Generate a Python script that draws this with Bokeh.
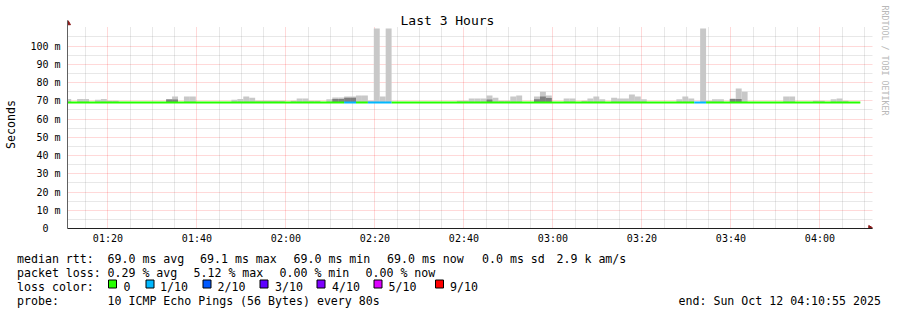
import math
from bokeh.plotting import figure
from bokeh.models import FixedTicker, Title
from bokeh.layouts import column
from bokeh.core.properties import value
from bokeh.embed import file_html
from bokeh.resources import INLINE

FONT = "DejaVu Sans Mono"

# ---------------- data ----------------
window_start = "01:10:55"
window_end = "04:10:55"
first_step = "01:10:25"
step_seconds = 80
n_steps = 134

# median rtt runs (step index ranges) and their loss count (out of 10)
run_first = [0, 47, 49, 51, 55, 106, 108]
run_last = [46, 48, 50, 54, 105, 107, 133]
run_median = [69.0, 69.0, 69.0, 69.0, 69.0, 69.0, 69.0]
run_loss = [0, 1, 0, 1, 0, 1, 0]

# smoke (highest ping) per step, ms
smoke_step = [0, 2, 3, 5, 6, 7, 8, 17, 18, 20, 21, 28, 29, 30, 31, 32, 33, 34, 35, 36,
              38, 39, 40, 41, 42, 44, 45, 46, 47, 48, 49, 50, 51, 52, 53, 54,
              66, 67, 68, 69, 70, 71, 72, 73, 74, 75, 76, 79, 80, 81, 84, 85,
              87, 88, 89, 90, 92, 93, 94, 95, 96, 97, 103, 104, 105, 107, 108,
              109, 110, 112, 113, 114, 121, 122, 126, 127, 129, 130, 131]
smoke_top = [71.0, 71.0, 71.0, 70.5, 71.0, 70.0, 70.0, 71.0, 72.3, 72.3, 72.3, 70.5, 71.0, 72.3, 71.7, 70.0, 70.0, 70.0, 70.0, 70.0,
             70.0, 71.2, 71.2, 70.0, 70.0, 70.8, 71.8, 71.8, 72.3, 72.3, 72.9, 72.9, 70.0, 109.6, 72.3, 109.6,
             70.0, 70.0, 71.2, 71.2, 71.2, 72.9, 71.7, 70.0, 70.0, 72.3, 72.9, 72.3, 75.0, 72.9, 71.2, 71.2,
             70.0, 71.2, 72.3, 70.8, 71.7, 71.2, 71.2, 73.4, 72.3, 70.8, 70.8, 72.3, 71.2, 109.6, 70.0,
             70.8, 70.8, 71.2, 76.7, 75.0, 72.3, 72.3, 70.0, 70.0, 70.8, 71.2, 70.0]
# inner (denser) smoke band per step, ms
inner_step = [17, 18, 45, 46, 47, 48, 71, 79, 80, 81, 112, 113]
inner_top = [70.7, 70.7, 71.0, 71.0, 71.6, 71.6, 70.7, 70.8, 72.3, 71.5, 71.0, 71.0]

loss_labels = ["0", "1/10", "2/10", "3/10", "4/10", "5/10", "9/10"]
loss_counts = [0, 1, 2, 3, 4, 5, 9]
loss_colors = ["#26ff00", "#00b8ff", "#0059ff", "#5e00ff", "#7e00ff", "#dd00ff", "#ff0000"]

x_tick_labels = ["01:20", "01:40", "02:00", "02:20", "02:40", "03:00", "03:20", "03:40", "04:00"]
y_tick_values = [0, 10, 20, 30, 40, 50, 60, 70, 80, 90, 100]
y_tick_labels = ["0\u00a0\u00a0", "10 m", "20 m", "30 m", "40 m", "50 m", "60 m", "70 m", "80 m", "90 m", "100 m"]

stats_rtt = ["median rtt:", "69.0 ms avg", "69.1 ms max", "69.0 ms min", "69.0 ms now", "0.0 ms sd", "2.9 k am/s"]
stats_loss = ["packet loss:", "0.29 % avg", "5.12 % max", "0.00 % min", "0.00 % now"]
probe_text = ["probe:", "10 ICMP Echo Pings (56 Bytes) every 80s"]
end_text = "end: Sun Oct 12 04:10:55 2025"
title_text = "Last 3 Hours"
watermark = "RRDTOOL / TOBI OETIKER"


def minutes(s):
    h, m, sec = (int(v) for v in s.split(":"))
    return h * 60 + m + sec / 60.0


t0 = minutes(first_step)
step_min = step_seconds / 60.0


def step_x0(k):
    return t0 + k * step_min


# ---------------- geometry ----------------
W = 897
CH = 248          # chart figure height
LH = 310 - CH     # legend figure height
L, R, T, B = 67, 25, 20, 20
frame_w = W - L - R
frame_h = CH - T - B
x0, x1 = minutes(window_start), minutes(window_end)
xpx = (x1 - x0) / 801.0             # minutes per pixel
x_end = x0 + frame_w * xpx
px_per_ms = 1.825
y_end = frame_h / px_per_ms
axis_y = CH - B                      # canvas y of the x axis


def ms_at(Y):
    return (axis_y - Y) / px_per_ms


p = figure(width=W, height=CH, x_range=(x0, x_end), y_range=(0, y_end),
           output_backend="svg", toolbar_location=None,
           min_border_left=L, min_border_right=R, min_border_top=T, min_border_bottom=B)
p.outline_line_color = None
p.background_fill_color = "white"
p.border_fill_color = "white"

# ticks & grid
x_major = [minutes(s + ":00") for s in x_tick_labels]
x_minor = [m for m in range(75, 251, 5) if m % 20 != 0]
xt = FixedTicker(ticks=x_major, minor_ticks=x_minor)
y_minor = [v + 5 for v in y_tick_values]
yt = FixedTicker(ticks=y_tick_values, minor_ticks=y_minor)

p.xaxis.ticker = xt
p.yaxis.ticker = yt
p.xaxis.major_label_overrides = {v: s for v, s in zip(x_major, x_tick_labels)}
p.yaxis.major_label_overrides = {v: s for v, s in zip(y_tick_values, y_tick_labels)}

for ax in (p.xaxis, p.yaxis):
    ax.major_tick_out = 0
    ax.major_tick_in = 0
    ax.minor_tick_out = 0
    ax.minor_tick_in = 0
    ax.major_label_text_font = FONT
    ax.major_label_text_font_size = "10px"
    ax.major_label_text_color = "black"
p.xaxis.axis_line_color = "#202020"
p.yaxis.axis_line_color = "#606060"
p.xaxis.major_label_standoff = 4
p.yaxis.major_label_standoff = 7
p.yaxis.axis_label = "Seconds"
p.yaxis.axis_label_text_font = FONT
p.yaxis.axis_label_text_font_size = "11.6px"
p.yaxis.axis_label_text_font_style = "normal"
p.yaxis.axis_label_text_color = "black"
p.yaxis.axis_label_standoff = 9

p.xgrid.ticker = xt
p.ygrid.ticker = yt
for g in (p.xgrid, p.ygrid):
    g.grid_line_color = "#ff0000"
    g.grid_line_alpha = 0.3
    g.grid_line_dash = "1 1"
    g.minor_grid_line_color = "#8c8c8c"
    g.minor_grid_line_alpha = 0.4
    g.minor_grid_line_dash = "1 1"

# keep the grid below the arrow zone clear (grid starts just above 110 ms)
p.quad(left=[x0], right=[x_end], bottom=[ms_at(26.5)], top=[y_end], fill_color="white", line_color=None)

# per-step median
step_median = [0.0] * n_steps
for a, b, med in zip(run_first, run_last, run_median):
    for k in range(a, b + 1):
        step_median[k] = med

# smoke
p.quad(left=[step_x0(k) for k in smoke_step], right=[step_x0(k + 1) for k in smoke_step],
       bottom=[step_median[k] for k in smoke_step], top=smoke_top,
       fill_color="#c8c8c8", line_color=None)
p.quad(left=[step_x0(k) for k in inner_step], right=[step_x0(k + 1) for k in inner_step],
       bottom=[step_median[k] for k in inner_step], top=inner_top,
       fill_color="#808080", line_color=None)

# median line coloured by loss
p.segment(x0=[step_x0(a) for a in run_first], x1=[step_x0(b + 1) for b in run_last],
          y0=run_median, y1=run_median,
          line_color=[loss_colors[loss_counts.index(l)] for l in run_loss], line_width=2)

# axis arrow heads
p.scatter(x=[x0], y=[ms_at(22.5)], marker="triangle", size=6, fill_color="#8b1a1a", line_color="#8b1a1a")
p.scatter(x=[x1 + 2 * xpx], y=[0], marker="triangle", angle=-math.pi / 2, size=6,
          fill_color="#8b1a1a", line_color="#8b1a1a")

# title and watermark
p.title.text = title_text
p.title.align = "left"
p.title.offset = 333
p.title.vertical_align = "bottom"
p.title.standoff = -14
p.title.text_font = FONT
p.title.text_font_size = "13px"
p.title.text_font_style = "normal"
p.title.text_color = "black"

p.add_layout(Title(text=watermark, align="left", offset=-15, vertical_align="top", standoff=11,
                   text_font=FONT, text_font_size="8.3px", text_font_style="normal",
                   text_color="#b8b8b8"), "right")

# ---------------- legend area ----------------
q = figure(width=W, height=LH, x_range=(0, W), y_range=(310, CH),
           output_backend="svg", toolbar_location=None,
           x_axis_location=None, y_axis_location=None,
           min_border_left=0, min_border_right=0, min_border_top=0, min_border_bottom=0)
q.outline_line_color = None
q.grid.visible = False
q.background_fill_color = "white"
q.border_fill_color = "white"

# do not align the legend strip's frame with the chart's frame
for fig in (p, q):
    try:
        fig.frame_align = False
    except Exception:
        pass

tx, ty, tt = [], [], []
rtt_x = [16.5, 107, 199.5, 293, 386.5, 481.5, 556]
for s, X in zip(stats_rtt, rtt_x):
    tx.append(X); ty.append(258); tt.append(s)
loss_x = [16.5, 107, 193, 279, 365]
for s, X in zip(stats_loss, loss_x):
    tx.append(X); ty.append(272); tt.append(s)
tx.append(16.5); ty.append(286); tt.append("loss color:")
box_x = [108, 145.5, 202.5, 259.5, 316.5, 373.5, 435]
text_x = [123, 159.5, 217, 274.5, 331.5, 388, 449.5]
for s, X in zip(loss_labels, text_x):
    tx.append(X); ty.append(286); tt.append(s)
tx += [16.5, 107, 678]
ty += [300, 300, 300]
tt += [probe_text[0], probe_text[1], end_text]

q.text(x=tx, y=ty, text=tt, text_font=value(FONT), text_font_size="11.6px",
       text_align="left", text_baseline="alphabetic", text_color="black")
q.quad(left=box_x, right=[b + 8 for b in box_x], top=[279.5] * len(box_x), bottom=[287.5] * len(box_x),
       fill_color=loss_colors, line_color="black", line_width=1)

layout = column(p, q, spacing=0)
open("out.html", "w").write(file_html(layout, INLINE))
